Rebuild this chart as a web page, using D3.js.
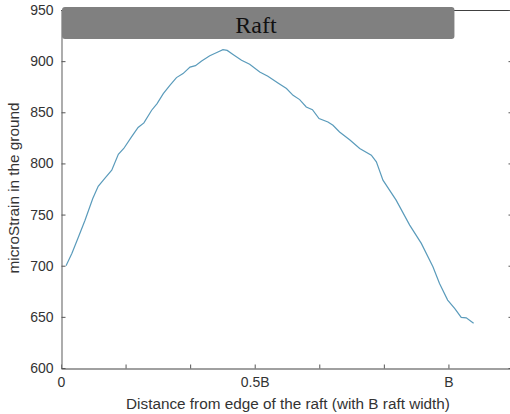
<!DOCTYPE html>
<html>
<head>
<meta charset="utf-8">
<script src="https://cdn.jsdelivr.net/npm/d3@7"></script>
<style>
  html, body { margin: 0; padding: 0; background: #fff; }
  svg { display: block; }
</style>
</head>
<body>
<svg id="chart" width="510" height="414"></svg>
<script>
// Distance from raft edge, in units of B (raft width)
const distanceB = [0.013,0.028,0.045,0.062,0.082,0.096,0.113,0.131,0.148,0.162,0.182,0.199,0.214,0.234,0.248,0.264,0.281,0.298,0.315,0.333,0.347,0.363,0.384,0.405,0.418,0.429,0.444,0.466,0.487,0.513,0.534,0.560,0.582,0.599,0.616,0.633,0.649,0.666,0.689,0.702,0.719,0.745,0.771,0.801,0.814,0.831,0.865,0.900,0.930,0.960,0.977,0.998,1.016,1.033,1.046,1.065];
// microStrain in the ground
const microStrain = [700,712,728,744.5,765.7,777.7,785.3,793.4,809,814.6,825.9,835.1,839.6,852,858.5,868.3,876.4,883.9,887.8,894.2,895.6,900.1,905.2,908.9,911.2,910.5,906.6,900.8,896.9,889.4,885.2,878.6,873.2,866.6,862.4,855.2,852.6,843.9,840.5,837.3,830.8,823.2,814.6,808,801.5,783.6,764.1,739.7,721.8,698.9,682.7,666.4,658.3,649.5,649.1,643.7];
const xTickValues = [0, 1/6, 2/6, 0.5, 4/6, 5/6, 1, 7/6];
const xTickLabels = {"0": "0", "0.5": "0.5B", "1": "B"};
const yTickValues = [600, 650, 700, 750, 800, 850, 900, 950];
const raftLabel = "Raft";
const xTitle = "Distance from edge of the raft (with B raft width)";
const yTitle = "microStrain in the ground";

const svg = d3.select("#chart");
const mLeft = 61, mRight = 513, mTop = 10, mBottom = 368;
const x = d3.scaleLinear().domain([0, 7/6]).range([mLeft, mRight]);
const y = d3.scaleLinear().domain([600, 950]).range([mBottom, mTop]);
const axisColor = "#808080";
const textColor = "#333";
const font = "Liberation Sans, Arial, sans-serif";

// Box lines
svg.append("line").attr("x1", mLeft).attr("x2", mRight).attr("y1", mTop + 0.5).attr("y2", mTop + 0.5)
  .attr("stroke", "#404040").attr("stroke-width", 1.2);
svg.append("line").attr("x1", mRight - 0.5).attr("x2", mRight - 0.5).attr("y1", mTop).attr("y2", mBottom)
  .attr("stroke", axisColor);

// Bottom axis
const xAxis = d3.axisBottom(x).tickValues(xTickValues).tickSizeInner(-4).tickSizeOuter(0)
  .tickFormat(d => { const k = String(Math.round(d * 6) / 6); return xTickLabels[k] !== undefined ? xTickLabels[k] : ""; });
const gx = svg.append("g").attr("transform", `translate(0,${mBottom + 0.5})`).call(xAxis);
gx.select(".domain").attr("stroke", axisColor).attr("stroke-width", 1.3);
gx.selectAll(".tick line").attr("stroke", "#555");
gx.selectAll(".tick text").attr("y", 9).attr("dy", "0.71em").attr("fill", textColor)
  .attr("font-family", font).attr("font-size", 14);

// Left axis
const yAxis = d3.axisLeft(y).tickValues(yTickValues).tickSizeInner(-4).tickSizeOuter(0).tickFormat(d3.format("d"));
const gy = svg.append("g").attr("transform", `translate(${mLeft + 0.5},0)`).call(yAxis);
gy.select(".domain").attr("stroke", axisColor).attr("stroke-width", 1.3);
gy.selectAll(".tick line").attr("stroke", "#555");
gy.selectAll(".tick text").attr("x", -8).attr("fill", textColor)
  .attr("font-family", font).attr("font-size", 14);

// Right-side inward ticks
const yAxisR = d3.axisRight(y).tickValues(yTickValues).tickSizeInner(-4).tickSizeOuter(0).tickFormat("");
const gyr = svg.append("g").attr("transform", `translate(${mRight - 0.5},0)`).call(yAxisR);
gyr.select(".domain").remove();
gyr.selectAll(".tick line").attr("stroke", "#555");

// Data line
const pts = distanceB.map((d, i) => [d, microStrain[i]]);
svg.append("path").datum(pts)
  .attr("fill", "none").attr("stroke", "#5a9bbb").attr("stroke-width", 1.2)
  .attr("d", d3.line().x(d => x(d[0])).y(d => y(d[1])));

// Raft box
const rx0 = x(0) + 1, rx1 = x(1.0155);
svg.append("rect").attr("x", rx0).attr("y", 7).attr("width", rx1 - rx0).attr("height", 32)
  .attr("rx", 3).attr("fill", "#808080");
svg.append("text").attr("x", 256).attr("y", 33).attr("text-anchor", "middle")
  .attr("font-family", "Liberation Serif, Times New Roman, serif").attr("font-size", 24)
  .attr("fill", "#111").text(raftLabel);

// Titles
svg.append("text").attr("x", 288).attr("y", 409).attr("text-anchor", "middle")
  .attr("font-family", font).attr("font-size", 15.3).attr("fill", textColor).text(xTitle);
svg.append("text").attr("transform", `translate(19,188) rotate(-90)`).attr("text-anchor", "middle")
  .attr("font-family", font).attr("font-size", 15.3).attr("fill", textColor).text(yTitle);
</script>
</body>
</html>
